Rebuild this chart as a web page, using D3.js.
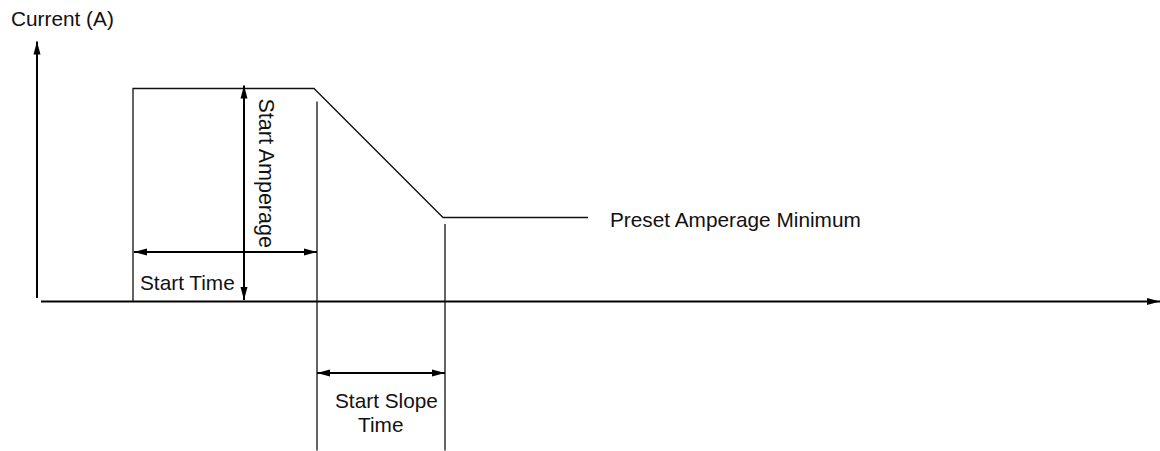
<!DOCTYPE html>
<html>
<head>
<meta charset="utf-8">
<script src="https://cdn.jsdelivr.net/npm/d3@7"></script>
<style>
  body { margin: 0; background: #fff; }
  svg { display: block; font-family: "Liberation Sans", Arial, Helvetica, sans-serif; }
</style>
</head>
<body>
<div id="chart"></div>
<script>
// Start-current profile: time (arbitrary units) vs current (A)
var profileTime    = [9.6, 9.6, 27.7, 40.6, 55.1];
var profileCurrent = [0, 21.3, 21.3, 8.4, 8.4];

// Vertical reference lines: [time, top current, bottom current]
var dividerTime = [28.0, 40.8];
var dividerTop  = [20.0, 7.75];
var dividerBottom = -14.9;

// Dimension arrows
var ampArrow   = { t: 20.7, from: 0.15, to: 21.6 };
var timeArrow  = { a: 4.95, from: 9.7, to: 28.0 };
var slopeArrow = { a: -7.15, from: 28.0, to: 40.8 };

var axisTitle = 'Current (A)';
var labelStartTime = 'Start Time';
var labelStartAmp = 'Start Amperage';
var labelPresetMin = 'Preset Amperage Minimum';
var labelSlope = ['Start Slope', 'Time'];

var width = 1160, height = 451;
var margin = { top: 41.5, right: 0, bottom: 149.5, left: 37 };

var svg = d3.select('#chart').append('svg')
    .attr('width', width)
    .attr('height', height);

var x = d3.scaleLinear().domain([0, 112.3]).range([margin.left, width - margin.right]);
var y = d3.scaleLinear().domain([0, 26]).range([height - margin.bottom, margin.top]);

// Arrowhead marker
var defs = svg.append('defs');
defs.append('marker')
    .attr('id', 'head')
    .attr('viewBox', '0 0 13 8')
    .attr('refX', 13)
    .attr('refY', 4)
    .attr('markerWidth', 13)
    .attr('markerHeight', 8)
    .attr('markerUnits', 'userSpaceOnUse')
    .attr('orient', 'auto-start-reverse')
    .append('path')
    .attr('d', 'M0,0.5 L13,4 L0,7.5 Z')
    .attr('fill', '#000');

// Axes
svg.append('line')
    .attr('x1', x(0)).attr('y1', y(0) - 3.5)
    .attr('x2', x(0)).attr('y2', y(26))
    .attr('stroke', '#000').attr('stroke-width', 2)
    .attr('marker-end', 'url(#head)');

svg.append('line')
    .attr('x1', x(0) + 4).attr('y1', y(0))
    .attr('x2', x(112.3)).attr('y2', y(0))
    .attr('stroke', '#000').attr('stroke-width', 2)
    .attr('marker-end', 'url(#head)');

// Current profile
var profile = profileTime.map(function (t, i) { return [t, profileCurrent[i]]; });
svg.append('path')
    .datum(profile)
    .attr('d', d3.line().x(function (d) { return x(d[0]); }).y(function (d) { return y(d[1]); }))
    .attr('fill', 'none')
    .attr('stroke', '#111')
    .attr('stroke-width', 1.3);

// Divider lines
svg.selectAll('line.divider')
    .data(dividerTime)
    .join('line')
    .attr('class', 'divider')
    .attr('x1', function (d) { return x(d); })
    .attr('x2', function (d) { return x(d); })
    .attr('y1', function (d, i) { return y(dividerTop[i]); })
    .attr('y2', y(dividerBottom))
    .attr('stroke', '#111')
    .attr('stroke-width', 1.3);

// Dimension arrows
function arrow(x1, y1, x2, y2) {
    svg.append('line')
        .attr('x1', x1).attr('y1', y1)
        .attr('x2', x2).attr('y2', y2)
        .attr('stroke', '#000').attr('stroke-width', 2)
        .attr('marker-start', 'url(#head)')
        .attr('marker-end', 'url(#head)');
}
arrow(x(ampArrow.t), y(ampArrow.from), x(ampArrow.t), y(ampArrow.to));
arrow(x(timeArrow.from), y(timeArrow.a), x(timeArrow.to), y(timeArrow.a));
arrow(x(slopeArrow.from), y(slopeArrow.a), x(slopeArrow.to), y(slopeArrow.a));

// Labels
var txt = svg.append('g')
    .attr('font-size', '20.8px')
    .attr('fill', '#111');

txt.append('text').attr('x', 11).attr('y', 26).text(axisTitle);

txt.append('text')
    .attr('x', x(timeArrow.from) + 6)
    .attr('y', y(0) - 12)
    .text(labelStartTime);

txt.append('text')
    .attr('transform', 'translate(' + (x(ampArrow.t) + 15) + ',' + (y(profileCurrent[1]) + 10) + ') rotate(90)')
    .attr('font-size', '21.5px')
    .text(labelStartAmp);

txt.append('text')
    .attr('x', x(profileTime[4]) + 22)
    .attr('y', y(profileCurrent[4]) + 9)
    .text(labelPresetMin);

txt.append('text')
    .attr('x', x(slopeArrow.from) + 18)
    .attr('y', y(slopeArrow.a) + 35)
    .text(labelSlope[0]);

txt.append('text')
    .attr('x', x(slopeArrow.from) + 41)
    .attr('y', y(slopeArrow.a) + 59)
    .text(labelSlope[1]);
</script>
</body>
</html>
